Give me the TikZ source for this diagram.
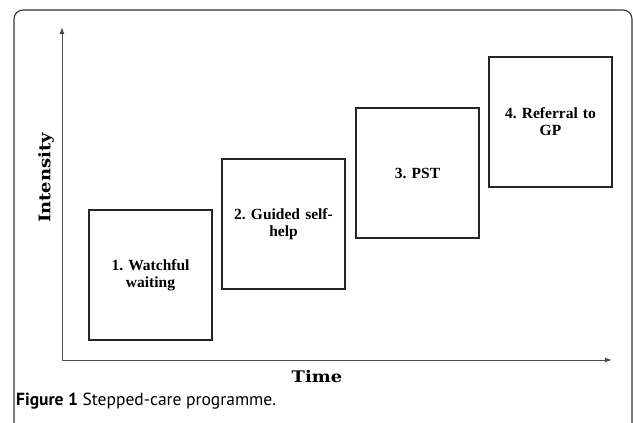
\documentclass[tikz,border=0pt]{standalone}
\usepackage{fontspec}
\setmainfont{Liberation Serif}
\newfontfamily\slabfont{DejaVu Serif Bold}[FakeStretch=1.12]
\newfontfamily\capfont{PT Sans}
\usetikzlibrary{arrows.meta}
\begin{document}
\frenchspacing
\begin{tikzpicture}[x=1pt,y=-1pt,
  stepbox/.style={draw=black!85,line width=1.2pt,minimum width=123pt,minimum height=130pt,
    inner sep=0pt,align=center,font=\fontsize{15.5}{17}\selectfont\bfseries,text width=110pt},
  axis/.style={draw=black!70,line width=1pt,-{Latex[length=7pt,width=5pt]}},
  axlabel/.style={font=\slabfont\fontsize{16}{18}\selectfont,inner sep=0pt}]
\useasboundingbox (0,0) rectangle (633,423);
\draw[black!80,line width=1.1pt,rounded corners=9pt] (14,440) -- (14,10) -- (632,10) -- (632,440);
\coordinate (O) at (62,360);
\coordinate (ytop) at (62,27);
\coordinate (xend) at (612,360);
\draw[axis] (O) -- (ytop);
\draw[axis] (O) -- (xend);
\node[stepbox] (s1) at (150.5,275) {1. Watchful\\waiting\\[3pt]};
\node[stepbox] (s2) at (283.5,224) {2. Guided self-\\help\\[3pt]};
\node[stepbox] (s3) at (417.5,173) {3. PST};
\node[stepbox] (s4) at (550.5,122) {4. Referral to\\GP\\[3pt]};
\node[axlabel,rotate=90] (ylab) at (46,178) {Intensity};
\node[axlabel] (xlab) at (317,377) {Time};
\node[anchor=base west,inner sep=0pt,font=\capfont\fontsize{17.5}{20}\selectfont] (cap) at (16,405) {\textbf{Figure 1} Stepped-care programme.};
\end{tikzpicture}
\end{document}
